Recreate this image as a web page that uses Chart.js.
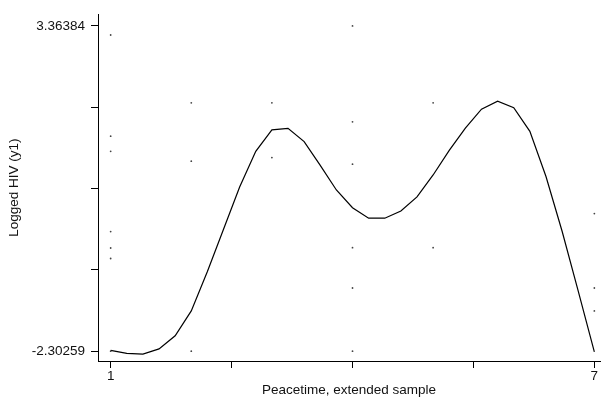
<!DOCTYPE html>
<html>
<head>
<meta charset="utf-8">
<script src="https://cdn.jsdelivr.net/npm/chart.js@4/dist/chart.umd.min.js"></script>
<style>
  html, body { margin: 0; padding: 0; background: #fff; }
  #wrap { width: 604px; height: 405px; }
</style>
</head>
<body>
<div id="wrap"><canvas id="hivChart" width="604" height="405"></canvas></div>
<script>
// smoothed fit (lowess style curve)
const fitX = [1.0, 1.2, 1.4, 1.6, 1.8, 2.0, 2.2, 2.4, 2.6, 2.8, 3.0, 3.2, 3.4, 3.6, 3.8, 4.0,
              4.2, 4.4, 4.6, 4.8, 5.0, 5.2, 5.4, 5.6, 5.8, 6.0, 6.2, 6.4, 6.6, 6.8, 7.0];
const fitY = [-2.29, -2.342, -2.354, -2.263, -2.034, -1.601, -0.916, -0.18, 0.556, 1.178, 1.554,
              1.578, 1.349, 0.933, 0.505, 0.197, 0.014, 0.014, 0.14, 0.385, 0.767, 1.195, 1.583,
              1.914, 2.051, 1.938, 1.527, 0.74, -0.214, -1.258, -2.315];

// observed points
const obsX = [1, 1, 1, 1, 1, 1, 1, 2, 2, 2, 3, 3, 4, 4, 4, 4, 4, 4, 5, 5, 7, 7, 7];
const obsY = [3.205, 1.442, 1.178, -0.219, -0.505, -0.688, -2.30259,
              2.024, 1.007, -2.30259,
              2.024, 1.07,
              3.36384, 1.692, 0.955, -0.5, -1.202, -2.30259,
              2.024, -0.5,
              0.094, -1.202, -1.601];

const yTicks = [-2.30259, -0.88598, 0.53063, 1.94723, 3.36384];
const yLabels = ['-2.30259', '', '', '', '3.36384'];
const xTicks = [1, 2.5, 4, 5.5, 7];
const xLabels = ['1', '', '', '', '7'];

const fitPoints = fitX.map((x, i) => ({ x: x, y: fitY[i] }));
const obsPoints = obsX.map((x, i) => ({ x: x, y: obsY[i] }));

const labelFont = { family: 'Liberation Sans, Arial', size: 13.5 };
const canvas = document.getElementById('hivChart');

new Chart(canvas, {
    type: 'scatter',
    data: {
        datasets: [
            {
                label: 'Logged HIV',
                data: obsPoints,
                pointRadius: 0.9,
                pointBorderWidth: 0,
                pointBackgroundColor: '#444',
                showLine: false
            },
            {
                label: 'Fit',
                data: fitPoints,
                showLine: true,
                borderColor: '#000',
                borderWidth: 1.2,
                pointRadius: 0,
                tension: 0,
                fill: false
            }
        ]
    },
    options: {
        responsive: false,
        animation: false,
        events: [],
        layout: { padding: { top: 8, right: 3, left: 0, bottom: 0 } },
        plugins: {
            legend: { display: false },
            tooltip: { enabled: false }
        },
        scales: {
            x: {
                type: 'linear',
                min: 0.843,
                max: 7.07,
                afterBuildTicks: function (scale) {
                    scale.ticks = xTicks.map(v => ({ value: v }));
                },
                afterFit: function (scale) { scale.height = 44; },
                ticks: {
                    callback: function (value, index) { return xLabels[index]; },
                    color: '#111',
                    font: labelFont,
                    padding: 0,
                    maxRotation: 0,
                    autoSkip: false
                },
                grid: {
                    drawOnChartArea: false,
                    drawTicks: true,
                    tickLength: 7,
                    color: '#000',
                    lineWidth: 1
                },
                border: { display: true, color: '#000', width: 1 },
                title: {
                    display: true,
                    text: 'Peacetime, extended sample',
                    color: '#111',
                    font: labelFont,
                    padding: { top: 0, bottom: 7 }
                }
            },
            y: {
                type: 'linear',
                min: -2.4738,
                max: 3.5693,
                afterBuildTicks: function (scale) {
                    scale.ticks = yTicks.map(v => ({ value: v }));
                },
                afterFit: function (scale) { scale.width = 98; },
                ticks: {
                    callback: function (value, index) { return yLabels[index]; },
                    color: '#111',
                    font: labelFont,
                    padding: 6,
                    autoSkip: false
                },
                grid: {
                    drawOnChartArea: false,
                    drawTicks: true,
                    tickLength: 7,
                    color: '#000',
                    lineWidth: 1
                },
                border: { display: true, color: '#000', width: 1 },
                title: {
                    display: true,
                    text: 'Logged HIV (y1)',
                    color: '#111',
                    font: labelFont,
                    padding: { top: 6, bottom: 0 }
                }
            }
        }
    }
});
</script>
</body>
</html>
